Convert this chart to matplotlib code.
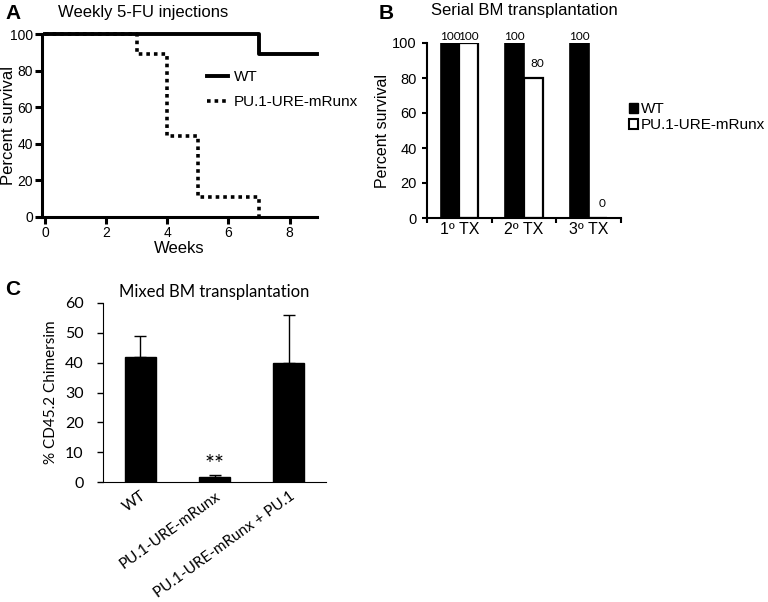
import numpy as np
import matplotlib
matplotlib.use("Agg")
from matplotlib import pyplot as plt
from matplotlib.patches import Patch
from matplotlib.transforms import ScaledTranslation

# panel A: Kaplan-Meier steps
wt_weeks = [0, 7, 8.9]
wt_surv = [100, 89, 89]
pu_weeks = [0, 3, 4, 5, 7]
pu_surv = [100, 89, 44, 11, 0]

# panel B: serial transplant
tx_labels = ["1º TX", "2º TX", "3º TX"]
wt_tx = [100, 100, 100]
pu_tx = [100, 80, 0]

# panel C: mixed transplant
mix_labels = ["WT", "PU.1-URE-mRunx", "PU.1-URE-mRunx + PU.1"]
mix_vals = [42, 1.8, 40]
mix_err = [7, 0.4, 16]

W, H = 768, 602
fig = plt.figure(figsize=(W / 100, H / 100), dpi=100)


def px_axes(l, t, r, b):
    return fig.add_axes([l / W, 1 - b / H, (r - l) / W, (b - t) / H])


arial = "Liberation Sans"
cal = "Lato"

# ---------------- A ----------------
ax = px_axes(42, 34, 317, 217)
pu_x = pu_weeks + [pu_weeks[-1]]
pu_y = pu_surv + [pu_surv[-1]]
ax.step(pu_x, pu_y, where="post", color="black", lw=2.6, ls=(0, (1, 1.1)),
        label="PU.1-URE-mRunx", clip_on=False, zorder=2)
ax.step(wt_weeks, wt_surv, where="post", color="black", lw=2.8, label="WT",
        clip_on=False, zorder=3)
ax.set_xlim(-0.1, 8.9)
ax.set_ylim(0, 100)
ax.set_xticks([0, 2, 4, 6, 8])
ax.set_yticks([0, 20, 40, 60, 80, 100])
for s in ["top", "right"]:
    ax.spines[s].set_visible(False)
for s in ["left", "bottom"]:
    ax.spines[s].set_linewidth(2.2)
ax.tick_params(width=2.2, length=5, labelsize=10, pad=1.5)
for t in ax.get_xticklabels() + ax.get_yticklabels():
    t.set_fontfamily(arial)
ax.set_xlabel("Weeks", fontsize=12, family=arial, labelpad=1)
ax.set_ylabel("Percent survival", fontsize=12, family=arial)
ax.yaxis.set_label_coords(-0.095, 0.5)
ax.set_title("Weekly 5-FU injections", fontsize=12, family=arial, x=0.367,
             y=1.0, pad=12)
h, l = ax.get_legend_handles_labels()
ax.legend(h[::-1], l[::-1], loc="upper left", bbox_to_anchor=(0.55, 0.876),
          frameon=False, prop={"family": arial, "size": 11}, handlelength=1.4,
          handletextpad=0.35, labelspacing=0.7)
fig.text(5 / W, 1 - 4 / H, "A", fontsize=15, fontweight="bold", family=arial,
         va="top")

# ---------------- B ----------------
ax = px_axes(427, 43, 621, 218)
x = np.arange(len(tx_labels))
bw = 0.29
ax.bar(x - bw / 2, wt_tx, bw, color="black", edgecolor="black", lw=1.2)
ax.bar(x + bw / 2, pu_tx, bw, color="white", edgecolor="black", lw=1.6)
for xi, v in zip(x - bw / 2, wt_tx):
    ax.text(xi, v + 0.5, str(v), ha="center", va="bottom", fontsize=8.5,
            family=cal)
for xi, v in zip(x + bw / 2, pu_tx):
    ax.text(xi + (0.06 if v < 100 else 0), v + (5 if v < 100 else 0.5), str(v),
            ha="center", va="bottom", fontsize=8.5, family=cal)
ax.set_xlim(-0.5, 2.5)
ax.set_ylim(0, 100)
ax.set_yticks([0, 20, 40, 60, 80, 100])
ax.set_xticks(x)
ax.set_xticklabels(tx_labels, family=arial, fontsize=11.5)
ax.set_xticks([-0.5, 0.5, 1.5, 2.5], minor=True)
ax.tick_params(axis="x", which="major", length=0, pad=3)
ax.tick_params(axis="x", which="minor", length=3.5, width=1.5)
ax.tick_params(axis="y", length=3.5, width=1.5, labelsize=10.5, pad=4)
for t in ax.get_yticklabels():
    t.set_fontfamily(arial)
for s in ["top", "right"]:
    ax.spines[s].set_visible(False)
for s in ["left", "bottom"]:
    ax.spines[s].set_linewidth(1.5)
ax.set_ylabel("Percent survival", fontsize=11.5, family=arial)
ax.yaxis.set_label_coords(-0.19, 0.5)
ax.set_title("Serial BM transplantation", fontsize=12, family=arial, y=1.0,
             pad=20)
handles = [Patch(facecolor="black", edgecolor="black"),
           Patch(facecolor="white", edgecolor="black", lw=1.5)]
ax.legend(handles, ["WT", "PU.1-URE-mRunx"], loc="center left",
          bbox_to_anchor=(1.0, 0.575), frameon=False,
          prop={"family": arial, "size": 11}, handlelength=0.6,
          handleheight=0.6, handletextpad=0.2, labelspacing=0.12,
          borderaxespad=0.1)
fig.text(379 / W, 1 - 4 / H, "B", fontsize=15, fontweight="bold", family=arial,
         va="top")

# ---------------- C ----------------
ax = px_axes(103, 303, 326, 482)
xc = np.arange(len(mix_labels))
ax.bar(xc, mix_vals, 0.42, color="black", edgecolor="black",
       yerr=[np.zeros(len(mix_err)), mix_err],
       error_kw={"elinewidth": 1, "capsize": 4, "capthick": 1, "ecolor": "black"})
ax.text(1, mix_vals[1] + 0.6, "**", ha="center", va="bottom", fontsize=17,
        family=cal)
ax.set_xlim(-0.5, 2.5)
ax.set_ylim(0, 60)
ax.set_yticks(np.arange(0, 61, 10))
ax.set_xticks(xc)
ax.set_xticklabels(mix_labels, rotation=36, ha="right", rotation_mode="anchor",
                   family=cal, fontsize=11)
# nudge the rotated labels right, like the spreadsheet layout
for t, dx in zip(ax.get_xticklabels(), [0.04, 0.24, 0.22]):
    t.set_transform(t.get_transform() + ScaledTranslation(dx, 0, fig.dpi_scale_trans))
ax.tick_params(axis="x", length=0, pad=5)
ax.tick_params(axis="y", length=4, width=1, labelsize=11.5, pad=10)
for t in ax.get_yticklabels():
    t.set_fontfamily(cal)
for s in ["top", "right"]:
    ax.spines[s].set_visible(False)
ax.set_ylabel("% CD45.2 Chimersim", fontsize=11, family=cal)
ax.yaxis.set_label_coords(-0.2, 0.5)
ax.set_title("Mixed BM transplantation", fontsize=12, family=cal, pad=4)
fig.text(5 / W, 1 - 280 / H, "C", fontsize=15, fontweight="bold", family=arial,
         va="top")

fig.savefig("out.png", dpi=100)
